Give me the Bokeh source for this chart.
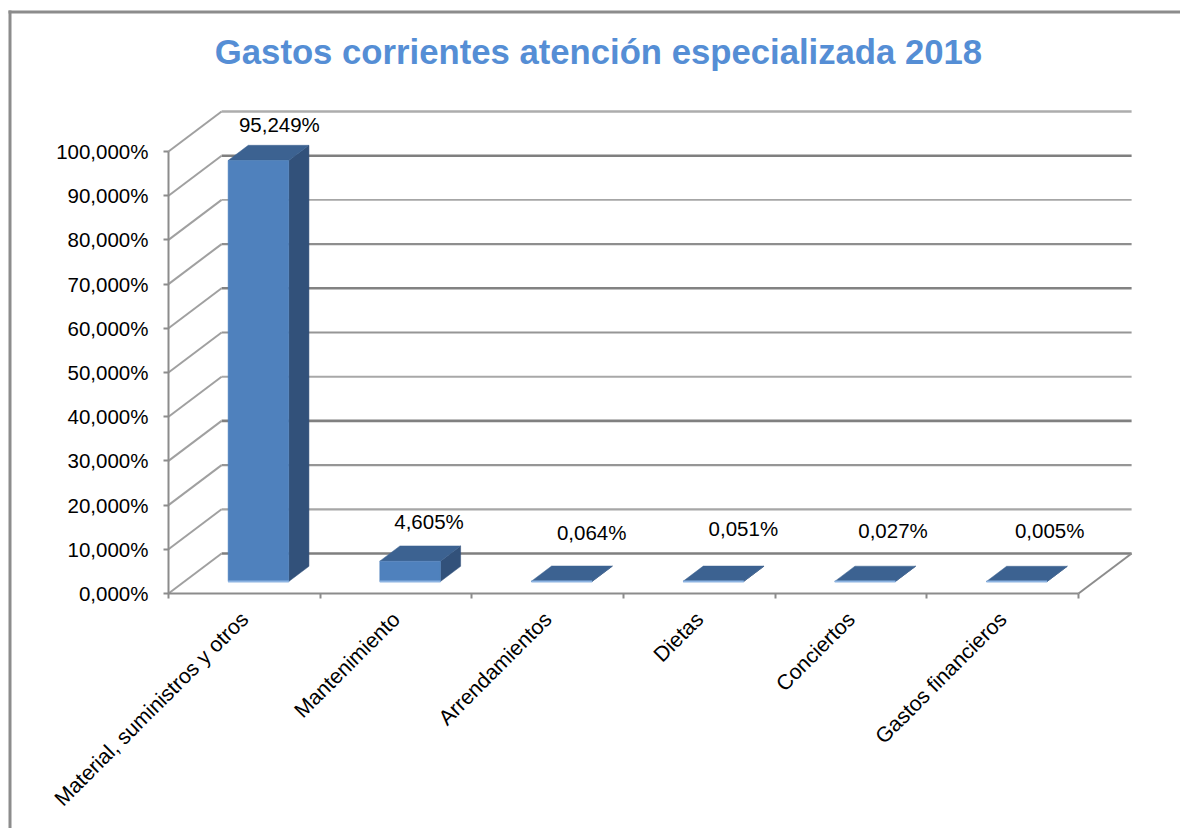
from math import pi
from bokeh.plotting import figure
from bokeh.models import Range1d, LinearAxis, FixedTicker, Label, BoxAnnotation
from bokeh.embed import file_html
from bokeh.resources import INLINE

title = "Gastos corrientes atención especializada 2018"
categories = ["Material, suministros y otros", "Mantenimiento", "Arrendamientos",
              "Dietas", "Conciertos", "Gastos financieros"]
values = [95.249, 4.605, 0.064, 0.051, 0.027, 0.005]
value_labels = ["95,249%", "4,605%", "0,064%", "0,051%", "0,027%", "0,005%"]
y_ticks = [0, 10, 20, 30, 40, 50, 60, 70, 80, 90, 100]
y_labels = ["0,000%", "10,000%", "20,000%", "30,000%", "40,000%", "50,000%",
            "60,000%", "70,000%", "80,000%", "90,000%", "100,000%"]

# oblique projection of the 3D box
DX, DY = 0.35, 9.05
Z0, Z1 = 0.30, 0.68
HALF = 0.2
BAR_SHIFT = -0.012
# label nudges in pixels
label_dx = [9, 7, 18, 18, 16, 21]
label_dy = [21, 24, 34, 38, 36, 36]
# grid line rendering per tick (0..100), uneven in the source picture
grid_colors = ["#7f7f7f", "#a6a6a6", "#969696", "#808080", "#a8a8a8", "#969696", "#828282", "#8e8e8e", "#a6a6a6", "#7f7f7f", "#adadad"]
grid_widths = [2.6, 2.2, 2.4, 2.6, 2, 2.2, 2.6, 2.4, 1.8, 2.6, 2.4]
GREY = "#8c8c8c"
FRONT, TOP, SIDE, BASE = "#4f81bd", "#3c6291", "#32517a", "#8db4e2"

W, H = 1180, 828
PX, PY = 151.67, 4.42          # pixels per category, pixels per percent
LEFT, BOTTOM = 168, 235        # axis origin inside the canvas, from left / bottom
X0, X1 = -LEFT / PX, (W - LEFT) / PX
Y0, Y1 = -BOTTOM / PY, (H - BOTTOM) / PY
p = figure(width=W, height=H, output_backend="svg", toolbar_location=None,
           x_range=Range1d(X0, X1), y_range=Range1d(Y0, Y1),
           x_axis_type=None, y_axis_type=None,
           min_border_left=0, min_border_right=0, min_border_top=0, min_border_bottom=0)
p.grid.visible = False
p.outline_line_color = None
p.background_fill_color = "white"

font = "Liberation Sans"

yax = LinearAxis(ticker=FixedTicker(ticks=y_ticks), bounds=(0, 100), fixed_location=0,
                 major_label_overrides=dict(zip(y_ticks, y_labels)))
yax.axis_line_color = GREY; yax.axis_line_width = 2
yax.major_tick_line_color = GREY; yax.major_tick_line_width = 2
yax.major_tick_in = 0; yax.major_tick_out = 5
yax.minor_tick_line_color = None
yax.major_label_standoff = 15
yax.major_label_text_font = font
yax.major_label_text_font_size = "20.5px"
yax.major_label_text_color = "#000000"
p.add_layout(yax, "left")

centers = [i + 0.5 for i in range(len(categories))]
xax = LinearAxis(ticker=FixedTicker(ticks=centers, minor_ticks=list(range(len(categories) + 1))),
                 bounds=(0, len(categories)), fixed_location=0,
                 major_label_overrides=dict(zip(centers, categories)))
xax.axis_line_color = GREY; xax.axis_line_width = 2
xax.major_tick_line_color = None
xax.minor_tick_line_color = GREY; xax.minor_tick_line_width = 2
xax.minor_tick_in = 0; xax.minor_tick_out = 5
xax.major_label_orientation = pi / 4
xax.major_label_standoff = 16
xax.major_label_text_font = font
xax.major_label_text_font_size = "21.2px"
xax.major_label_text_color = "#000000"
p.add_layout(xax, "below")

# back wall grid lines and left wall diagonals
n = len(categories)
for t, c, w in zip(y_ticks, grid_colors, grid_widths):
    p.line([DX, n + DX], [t + DY, t + DY], line_color=c, line_width=w)
    p.line([0, DX], [t, t + DY], line_color="#a0a0a0", line_width=2)
p.line([n, n + DX], [0, DY], line_color=GREY, line_width=2)

# bars
for c, v in zip(centers, values):
    x0, x1 = c - HALF + BAR_SHIFT, c + HALF + BAR_SHIFT
    p.patch([x1 + Z0 * DX, x1 + Z1 * DX, x1 + Z1 * DX, x1 + Z0 * DX],
            [Z0 * DY, Z1 * DY, v + Z1 * DY, v + Z0 * DY], fill_color=SIDE, line_color=SIDE, line_width=0.5)
    p.patch([x0 + Z0 * DX, x1 + Z0 * DX, x1 + Z1 * DX, x0 + Z1 * DX],
            [v + Z0 * DY, v + Z0 * DY, v + Z1 * DY, v + Z1 * DY], fill_color=TOP, line_color=TOP, line_width=0.5)
    p.patch([x0 + Z0 * DX, x1 + Z0 * DX, x1 + Z0 * DX, x0 + Z0 * DX],
            [Z0 * DY, Z0 * DY, v + Z0 * DY, v + Z0 * DY], fill_color=FRONT, line_color=FRONT, line_width=0.5)
    p.line([x0 + Z0 * DX, x1 + Z0 * DX], [Z0 * DY, Z0 * DY], line_color=BASE, line_width=2)

# data labels anchored on each bar's top
xs = [c + (Z0 + Z1) / 2 * DX for c in centers]
ys = [v + Z1 * DY for v in values]
for x, y, t, dx, dy in zip(xs, ys, value_labels, label_dx, label_dy):
    p.add_layout(Label(x=x, y=y, text=t, x_offset=dx, y_offset=dy, text_align="center",
                       text_baseline="middle", text_font=font, text_font_size="20.5px", text_color="#000000"))

p.add_layout(Label(x=2.835, y=122.4, text=title, text_align="center", text_baseline="middle",
                   text_font=font, text_font_style="bold", text_font_size="34.7px", text_color="#558ed5"))

# chart area border: left and top only
p.add_layout(BoxAnnotation(left=X0 + 8 / PX, right=X0 + 11 / PX, bottom=Y0, top=Y1 - 10 / PY,
                           fill_color=GREY, fill_alpha=1, line_color=None))
p.add_layout(BoxAnnotation(left=X0 + 8 / PX, right=X1, bottom=Y1 - 13 / PY, top=Y1 - 10 / PY,
                           fill_color=GREY, fill_alpha=1, line_color=None))

open("out.html", "w").write(file_html(p, INLINE))
